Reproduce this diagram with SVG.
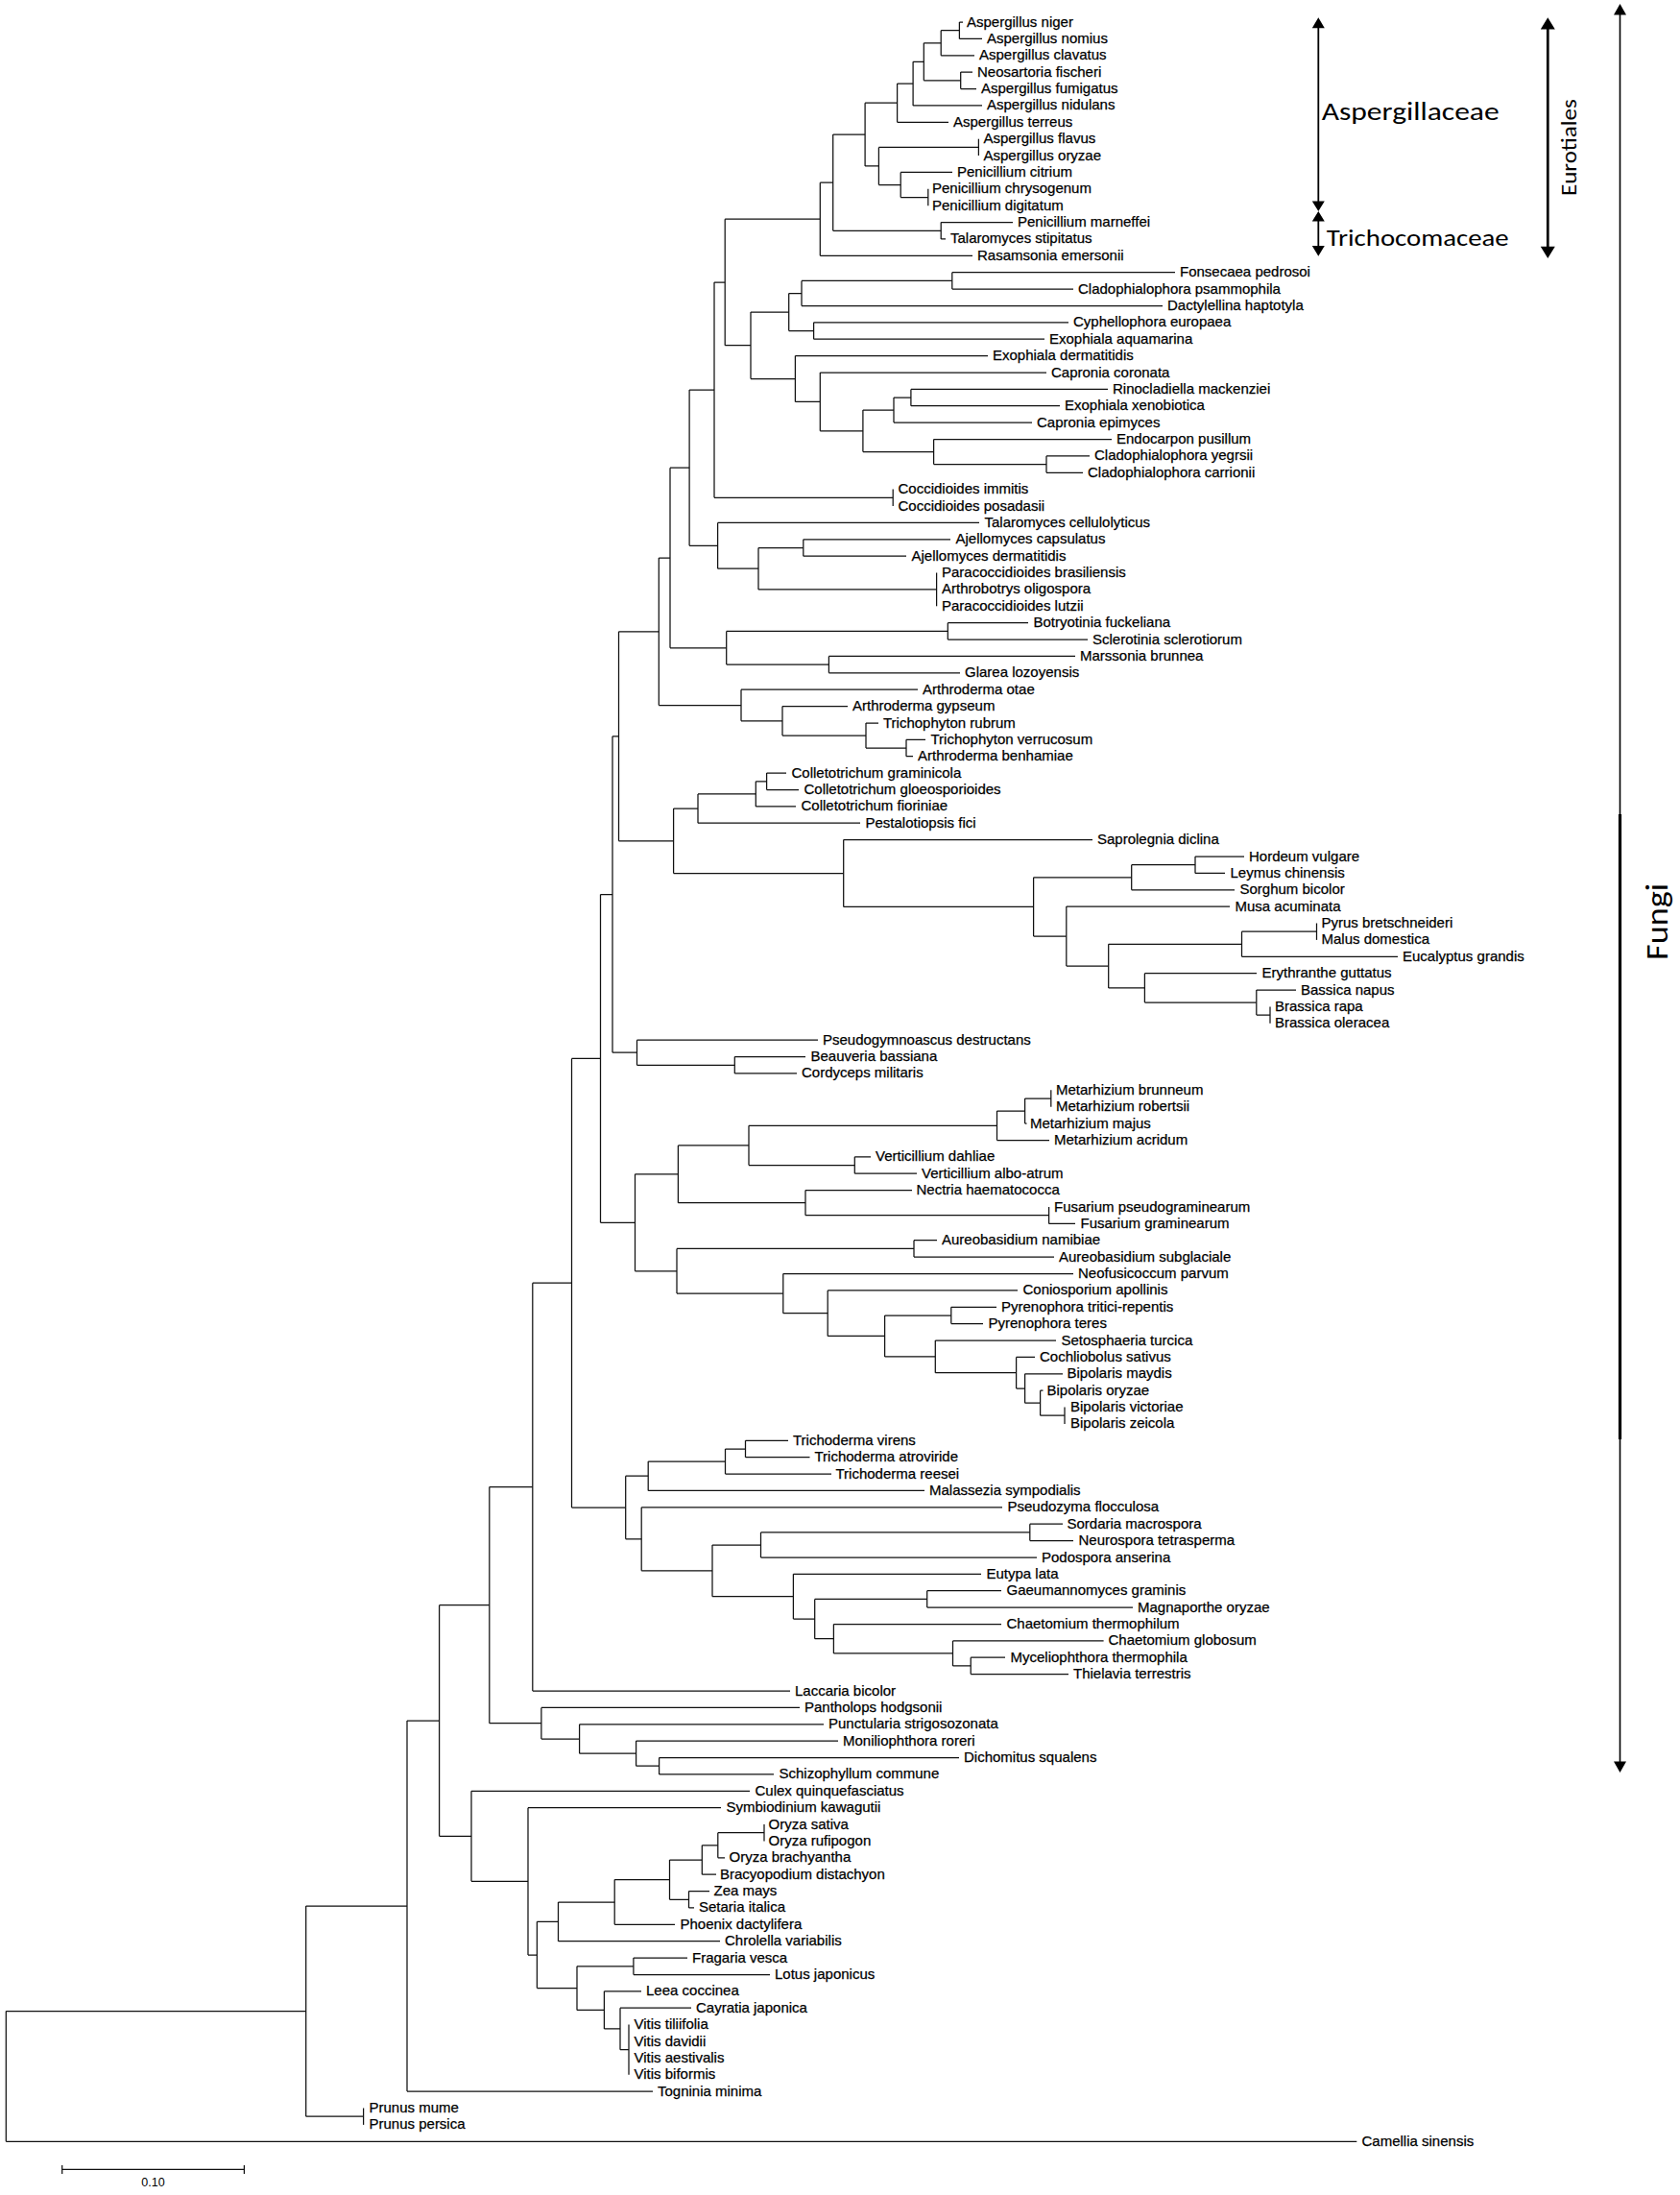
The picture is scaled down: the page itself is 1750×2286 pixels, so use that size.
<svg xmlns="http://www.w3.org/2000/svg" width="1750" height="2286" viewBox="0 0 1750 2286">
<style>
.br{fill:none;stroke:#111;stroke-width:1.25}
.lb{font-family:"Liberation Sans",Arial,sans-serif;font-size:15px;fill:#000;stroke:#000;stroke-width:0.25}
.an{font-family:Carlito,Lato,"Open Sans",sans-serif;fill:#000}
.ar{fill:none;stroke:#000}
.ah{fill:#000}
</style>
<rect width="1750" height="2286" fill="#fff"/>
<g id="connectors" class="br">
<path d="M6.3 2094.6V2230.3M6.3 2094.6H318.7M6.3 2230.3H1413.3"/>
<path d="M318.7 1985.1V2204.2M318.7 1985.1H424M318.7 2204.2H378.6"/>
<path d="M378.6 2195.5V2212.9"/>
<path d="M424 1792V2178.1M424 1792H457.6M424 2178.1H680"/>
<path d="M457.6 1671.7V1912.3M457.6 1671.7H509.8M457.6 1912.3H491"/>
<path d="M491 1865.3V1959.3M491 1865.3H781M491 1959.3H550"/>
<path d="M550 1882.7V2036M550 1882.7H751M550 2036H559.4"/>
<path d="M559.4 2001.3V2070.6M559.4 2001.3H581.5M559.4 2070.6H601"/>
<path d="M581.5 1981V2021.7M581.5 1981H640.2M581.5 2021.7H750"/>
<path d="M640.2 1957.6V2004.3M640.2 1957.6H697.5M640.2 2004.3H703"/>
<path d="M697.5 1937V1978.3M697.5 1937H731.3M697.5 1978.3H717.5"/>
<path d="M731.3 1921.8V1952.2M731.3 1921.8H747.8M731.3 1952.2H746"/>
<path d="M747.8 1908.7V1934.8M747.8 1908.7H796M747.8 1934.8H755"/>
<path d="M796 1900V1917.4"/>
<path d="M717.5 1969.6V1986.9M717.5 1969.6H739M717.5 1986.9H723"/>
<path d="M601 2047.8V2093.4M601 2047.8H659.9M601 2093.4H629.4"/>
<path d="M659.9 2039.1V2056.5M659.9 2039.1H716M659.9 2056.5H802"/>
<path d="M629.4 2073.8V2112.9M629.4 2073.8H668M629.4 2112.9H646"/>
<path d="M646 2091.2V2134.7M646 2091.2H720M646 2134.7H655"/>
<path d="M655 2108.6V2160.7"/>
<path d="M509.8 1548.6V1794.7M509.8 1548.6H554.8M509.8 1794.7H563.9"/>
<path d="M563.9 1778.4V1811M563.9 1778.4H833M563.9 1811H603.6"/>
<path d="M603.6 1795.8V1826.2M603.6 1795.8H858M603.6 1826.2H662.6"/>
<path d="M662.6 1813.1V1839.2M662.6 1813.1H873M662.6 1839.2H686.6"/>
<path d="M686.6 1830.5V1847.9M686.6 1830.5H999M686.6 1847.9H806"/>
<path d="M554.8 1336.2V1761M554.8 1336.2H595.5M554.8 1761H823"/>
<path d="M595.5 1102.4V1570M595.5 1102.4H625.5M595.5 1570H651.7"/>
<path d="M651.7 1537.2V1602.8M651.7 1537.2H675.2M651.7 1602.8H668.2"/>
<path d="M675.2 1522.1V1552.4M675.2 1522.1H755.5M675.2 1552.4H963"/>
<path d="M755.5 1509V1535.1M755.5 1509H776.5M755.5 1535.1H866"/>
<path d="M776.5 1500.3V1517.7M776.5 1500.3H821M776.5 1517.7H843.5"/>
<path d="M668.2 1569.8V1635.8M668.2 1569.8H1044M668.2 1635.8H742"/>
<path d="M742 1609V1662.7M742 1609H792.5M742 1662.7H826.4"/>
<path d="M792.5 1595.9V1622M792.5 1595.9H1072.8M792.5 1622H1080"/>
<path d="M1072.8 1587.2V1604.6M1072.8 1587.2H1107M1072.8 1604.6H1118"/>
<path d="M826.4 1639.3V1686.1M826.4 1639.3H1022M826.4 1686.1H848.7"/>
<path d="M848.7 1665.4V1706.7M848.7 1665.4H965.7M848.7 1706.7H868.4"/>
<path d="M965.7 1656.7V1674.1M965.7 1656.7H1043M965.7 1674.1H1180"/>
<path d="M868.4 1691.5V1721.9M868.4 1691.5H1043M868.4 1721.9H992.5"/>
<path d="M992.5 1708.9V1734.9M992.5 1708.9H1149.6M992.5 1734.9H1011.2"/>
<path d="M1011.2 1726.2V1743.6M1011.2 1726.2H1047M1011.2 1743.6H1113"/>
<path d="M625.5 931.5V1273.3M625.5 931.5H638M625.5 1273.3H661.5"/>
<path d="M661.5 1222.8V1323.8M661.5 1222.8H706.4M661.5 1323.8H705"/>
<path d="M706.4 1192.9V1252.7M706.4 1192.9H780M706.4 1252.7H839"/>
<path d="M780 1172.3V1213.5M780 1172.3H1038.5M780 1213.5H890.3"/>
<path d="M1038.5 1157.1V1187.5M1038.5 1157.1H1067.6M1038.5 1187.5H1093"/>
<path d="M1067.6 1144V1170.1M1067.6 1144H1094.8M1067.6 1170.1H1069.5"/>
<path d="M1094.8 1135.3V1152.7"/>
<path d="M890.3 1204.8V1222.2M890.3 1204.8H907M890.3 1222.2H955"/>
<path d="M839 1239.6V1265.7M839 1239.6H950M839 1265.7H1092.6"/>
<path d="M1092.6 1257V1274.4M1092.6 1274.4H1120"/>
<path d="M705 1300.4V1347.1M705 1300.4H952M705 1347.1H815.8"/>
<path d="M952 1291.7V1309.1M952 1291.7H976M952 1309.1H1098"/>
<path d="M815.8 1326.5V1367.7M815.8 1326.5H1118M815.8 1367.7H862.2"/>
<path d="M862.2 1343.9V1391.4M862.2 1343.9H1060M862.2 1391.4H921.6"/>
<path d="M921.6 1370V1412.9M921.6 1370H990.8M921.6 1412.9H974.3"/>
<path d="M990.8 1361.3V1378.6M990.8 1361.3H1038M990.8 1378.6H1024"/>
<path d="M974.3 1396V1429.7M974.3 1396H1100M974.3 1429.7H1058.6"/>
<path d="M1058.6 1413.4V1446M1058.6 1413.4H1078M1058.6 1446H1067.6"/>
<path d="M1067.6 1430.8V1461.2M1067.6 1430.8H1107M1067.6 1461.2H1083.6"/>
<path d="M1083.6 1448.2V1474.2M1083.6 1448.2H1086.5M1083.6 1474.2H1109"/>
<path d="M1109 1465.5V1482.9"/>
<path d="M638 766.8V1096.2M638 766.8H644.5M638 1096.2H663.5"/>
<path d="M663.5 1083.2V1109.3M663.5 1083.2H852M663.5 1109.3H765.3"/>
<path d="M765.3 1100.6V1117.9M765.3 1100.6H839M765.3 1117.9H830"/>
<path d="M644.5 657.8V875.8M644.5 657.8H686.3M644.5 875.8H701.6"/>
<path d="M701.6 842V909.5M701.6 842H727M701.6 909.5H878.7"/>
<path d="M727 826.9V857.2M727 826.9H787.3M727 857.2H896"/>
<path d="M787.3 813.8V839.9M787.3 813.8H798.6M787.3 839.9H829"/>
<path d="M798.6 805.1V822.5M798.6 805.1H819M798.6 822.5H832"/>
<path d="M878.7 874.6V944.4M878.7 874.6H1138M878.7 944.4H1076.6"/>
<path d="M1076.6 913.8V975.1M1076.6 913.8H1178.7M1076.6 975.1H1110.8"/>
<path d="M1178.7 900.7V926.8M1178.7 900.7H1245M1178.7 926.8H1286"/>
<path d="M1245 892V909.4M1245 892H1296M1245 909.4H1276"/>
<path d="M1110.8 944.1V1006.1M1110.8 944.1H1281M1110.8 1006.1H1154.7"/>
<path d="M1154.7 983.3V1028.9M1154.7 983.3H1293.5M1154.7 1028.9H1192.4"/>
<path d="M1293.5 970.2V996.3M1293.5 970.2H1371.5M1293.5 996.3H1456"/>
<path d="M1371.5 961.5V978.9"/>
<path d="M1192.4 1013.7V1044.1M1192.4 1013.7H1309M1192.4 1044.1H1308.8"/>
<path d="M1308.8 1031V1057.1M1308.8 1031H1350M1308.8 1057.1H1323"/>
<path d="M1323 1048.4V1065.8"/>
<path d="M686.3 581V734.5M686.3 581H698M686.3 734.5H772"/>
<path d="M772 718.2V750.8M772 718.2H956M772 750.8H815"/>
<path d="M815 735.6V766M815 735.6H883M815 766H902"/>
<path d="M902 753V779M902 753H915M902 779H944"/>
<path d="M944 770.3V787.7M944 770.3H964M944 787.7H951"/>
<path d="M698 487.2V674.8M698 487.2H718.1M698 674.8H756.7"/>
<path d="M756.7 657.4V692.1M756.7 657.4H987.3M756.7 692.1H863.4"/>
<path d="M987.3 648.7V666.1M987.3 648.7H1071M987.3 666.1H1133"/>
<path d="M863.4 683.4V700.8M863.4 683.4H1120M863.4 700.8H1000"/>
<path d="M718.1 406.1V568.3M718.1 406.1H744M718.1 568.3H747.6"/>
<path d="M747.6 544.4V592.2M747.6 544.4H1020M747.6 592.2H790"/>
<path d="M790 570.5V613.9M790 570.5H836.8M790 613.9H975.6"/>
<path d="M836.8 561.8V579.2M836.8 561.8H990M836.8 579.2H944"/>
<path d="M975.6 596.5V631.3"/>
<path d="M744 294V518.3M744 294H755.2M744 518.3H930.2"/>
<path d="M930.2 509.6V527"/>
<path d="M755.2 228.2V359.7M755.2 228.2H854.3M755.2 359.7H782"/>
<path d="M854.3 190.2V266.3M854.3 190.2H867.7M854.3 266.3H1013"/>
<path d="M867.7 140.1V240.3M867.7 140.1H901.1M867.7 240.3H980.2"/>
<path d="M980.2 231.6V248.9M980.2 231.6H1055M980.2 248.9H985"/>
<path d="M901.1 107.2V172.9M901.1 107.2H934.6M901.1 172.9H915.4"/>
<path d="M934.6 87.1V127.3M934.6 87.1H951.1M934.6 127.3H988"/>
<path d="M951.1 64.3V109.9M951.1 64.3H962.3M951.1 109.9H1023"/>
<path d="M962.3 44.8V83.8M962.3 44.8H980.2M962.3 83.8H1000.7"/>
<path d="M980.2 31.7V57.8M980.2 31.7H999.4M980.2 57.8H1015"/>
<path d="M999.4 23V40.4M999.4 23H1003M999.4 40.4H1023"/>
<path d="M1000.7 75.1V92.5M1000.7 75.1H1013M1000.7 92.5H1017"/>
<path d="M915.4 153.4V192.5M915.4 153.4H1019.4M915.4 192.5H938.2"/>
<path d="M1019.4 144.7V162"/>
<path d="M938.2 179.4V205.5M938.2 179.4H992M938.2 205.5H966.8"/>
<path d="M966.8 196.8V214.2"/>
<path d="M782 325V394.5M782 325H821.7M782 394.5H828.4"/>
<path d="M821.7 305.5V344.5M821.7 305.5H835M821.7 344.5H847.6"/>
<path d="M835 292.4V318.5M835 292.4H991.8M835 318.5H1211"/>
<path d="M991.8 283.7V301.1M991.8 283.7H1224M991.8 301.1H1118"/>
<path d="M847.6 335.8V353.2M847.6 335.8H1113M847.6 353.2H1088"/>
<path d="M828.4 370.6V418.4M828.4 370.6H1029M828.4 418.4H854.3"/>
<path d="M854.3 388V448.8M854.3 388H1090M854.3 448.8H898.9"/>
<path d="M898.9 427.1V470.6M898.9 427.1H931M898.9 470.6H972.6"/>
<path d="M931 414.1V440.1M931 414.1H948.9M931 440.1H1075"/>
<path d="M948.9 405.4V422.7M948.9 405.4H1154M948.9 422.7H1104"/>
<path d="M972.6 457.5V483.6M972.6 457.5H1158M972.6 483.6H1090"/>
<path d="M1090 474.9V492.3M1090 474.9H1135M1090 492.3H1128"/>
</g>
<g id="labels" class="lb">
<g id="leaf1"><text x="1007" y="27.5">Aspergillus niger</text></g>
<g id="leaf2"><text x="1028" y="44.9">Aspergillus nomius</text></g>
<g id="leaf3"><text x="1020" y="62.3">Aspergillus clavatus</text></g>
<g id="leaf4"><text x="1018" y="79.6">Neosartoria fischeri</text></g>
<g id="leaf5"><text x="1022" y="97">Aspergillus fumigatus</text></g>
<g id="leaf6"><text x="1028" y="114.4">Aspergillus nidulans</text></g>
<g id="leaf7"><text x="993" y="131.8">Aspergillus terreus</text></g>
<g id="leaf8"><text x="1024.5" y="149.2">Aspergillus flavus</text></g>
<g id="leaf9"><text x="1024.5" y="166.5">Aspergillus oryzae</text></g>
<g id="leaf10"><text x="997" y="183.9">Penicillium citrium</text></g>
<g id="leaf11"><text x="971" y="201.3">Penicillium chrysogenum</text></g>
<g id="leaf12"><text x="971" y="218.7">Penicillium digitatum</text></g>
<g id="leaf13"><text x="1060" y="236.1">Penicillium marneffei</text></g>
<g id="leaf14"><text x="990" y="253.4">Talaromyces stipitatus</text></g>
<g id="leaf15"><text x="1018" y="270.8">Rasamsonia emersonii</text></g>
<g id="leaf16"><text x="1229" y="288.2">Fonsecaea pedrosoi</text></g>
<g id="leaf17"><text x="1123" y="305.6">Cladophialophora psammophila</text></g>
<g id="leaf18"><text x="1216" y="323">Dactylellina haptotyla</text></g>
<g id="leaf19"><text x="1118" y="340.3">Cyphellophora europaea</text></g>
<g id="leaf20"><text x="1093" y="357.7">Exophiala aquamarina</text></g>
<g id="leaf21"><text x="1034" y="375.1">Exophiala dermatitidis</text></g>
<g id="leaf22"><text x="1095" y="392.5">Capronia coronata</text></g>
<g id="leaf23"><text x="1159" y="409.9">Rinocladiella mackenziei</text></g>
<g id="leaf24"><text x="1109" y="427.2">Exophiala xenobiotica</text></g>
<g id="leaf25"><text x="1080" y="444.6">Capronia epimyces</text></g>
<g id="leaf26"><text x="1163" y="462">Endocarpon pusillum</text></g>
<g id="leaf27"><text x="1140" y="479.4">Cladophialophora yegrsii</text></g>
<g id="leaf28"><text x="1133" y="496.8">Cladophialophora carrionii</text></g>
<g id="leaf29"><text x="935.5" y="514.1">Coccidioides immitis</text></g>
<g id="leaf30"><text x="935.5" y="531.5">Coccidioides posadasii</text></g>
<g id="leaf31"><text x="1025.5" y="548.9">Talaromyces cellulolyticus</text></g>
<g id="leaf32"><text x="995.5" y="566.3">Ajellomyces capsulatus</text></g>
<g id="leaf33"><text x="949.5" y="583.7">Ajellomyces dermatitidis</text></g>
<g id="leaf34"><text x="981" y="601">Paracoccidioides brasiliensis</text></g>
<g id="leaf35"><text x="981" y="618.4">Arthrobotrys oligospora</text></g>
<g id="leaf36"><text x="981" y="635.8">Paracoccidioides lutzii</text></g>
<g id="leaf37"><text x="1076.5" y="653.2">Botryotinia fuckeliana</text></g>
<g id="leaf38"><text x="1138" y="670.6">Sclerotinia sclerotiorum</text></g>
<g id="leaf39"><text x="1125" y="687.9">Marssonia brunnea</text></g>
<g id="leaf40"><text x="1005" y="705.3">Glarea lozoyensis</text></g>
<g id="leaf41"><text x="961" y="722.7">Arthroderma otae</text></g>
<g id="leaf42"><text x="888" y="740.1">Arthroderma gypseum</text></g>
<g id="leaf43"><text x="920" y="757.5">Trichophyton rubrum</text></g>
<g id="leaf44"><text x="969.5" y="774.8">Trichophyton verrucosum</text></g>
<g id="leaf45"><text x="956" y="792.2">Arthroderma benhamiae</text></g>
<g id="leaf46"><text x="824.5" y="809.6">Colletotrichum graminicola</text></g>
<g id="leaf47"><text x="837.5" y="827">Colletotrichum gloeosporioides</text></g>
<g id="leaf48"><text x="834.5" y="844.4">Colletotrichum fioriniae</text></g>
<g id="leaf49"><text x="901.5" y="861.7">Pestalotiopsis fici</text></g>
<g id="leaf50"><text x="1143" y="879.1">Saprolegnia diclina</text></g>
<g id="leaf51"><text x="1301" y="896.5">Hordeum vulgare</text></g>
<g id="leaf52"><text x="1281.5" y="913.9">Leymus chinensis</text></g>
<g id="leaf53"><text x="1291.5" y="931.3">Sorghum bicolor</text></g>
<g id="leaf54"><text x="1286.5" y="948.6">Musa acuminata</text></g>
<g id="leaf55"><text x="1376.5" y="966">Pyrus bretschneideri</text></g>
<g id="leaf56"><text x="1376.5" y="983.4">Malus domestica</text></g>
<g id="leaf57"><text x="1461" y="1000.8">Eucalyptus grandis</text></g>
<g id="leaf58"><text x="1314.5" y="1018.2">Erythranthe guttatus</text></g>
<g id="leaf59"><text x="1355" y="1035.5">Bassica napus</text></g>
<g id="leaf60"><text x="1328" y="1052.9">Brassica rapa</text></g>
<g id="leaf61"><text x="1328" y="1070.3">Brassica oleracea</text></g>
<g id="leaf62"><text x="857" y="1087.7">Pseudogymnoascus destructans</text></g>
<g id="leaf63"><text x="844.5" y="1105.1">Beauveria bassiana</text></g>
<g id="leaf64"><text x="835" y="1122.4">Cordyceps militaris</text></g>
<g id="leaf65"><text x="1100" y="1139.8">Metarhizium brunneum</text></g>
<g id="leaf66"><text x="1100" y="1157.2">Metarhizium robertsii</text></g>
<g id="leaf67"><text x="1073" y="1174.6">Metarhizium majus</text></g>
<g id="leaf68"><text x="1098" y="1192">Metarhizium acridum</text></g>
<g id="leaf69"><text x="912" y="1209.3">Verticillium dahliae</text></g>
<g id="leaf70"><text x="960" y="1226.7">Verticillium albo-atrum</text></g>
<g id="leaf71"><text x="954.5" y="1244.1">Nectria haematococca</text></g>
<g id="leaf72"><text x="1098" y="1261.5">Fusarium pseudograminearum</text></g>
<g id="leaf73"><text x="1125.5" y="1278.9">Fusarium graminearum</text></g>
<g id="leaf74"><text x="981" y="1296.2">Aureobasidium namibiae</text></g>
<g id="leaf75"><text x="1103" y="1313.6">Aureobasidium subglaciale</text></g>
<g id="leaf76"><text x="1123" y="1331">Neofusicoccum parvum</text></g>
<g id="leaf77"><text x="1065.5" y="1348.4">Coniosporium apollinis</text></g>
<g id="leaf78"><text x="1043" y="1365.8">Pyrenophora tritici-repentis</text></g>
<g id="leaf79"><text x="1029.5" y="1383.1">Pyrenophora teres</text></g>
<g id="leaf80"><text x="1105.5" y="1400.5">Setosphaeria turcica</text></g>
<g id="leaf81"><text x="1083" y="1417.9">Cochliobolus sativus</text></g>
<g id="leaf82"><text x="1111.5" y="1435.3">Bipolaris maydis</text></g>
<g id="leaf83"><text x="1090.5" y="1452.7">Bipolaris oryzae</text></g>
<g id="leaf84"><text x="1115" y="1470">Bipolaris victoriae</text></g>
<g id="leaf85"><text x="1115" y="1487.4">Bipolaris zeicola</text></g>
<g id="leaf86"><text x="826" y="1504.8">Trichoderma virens</text></g>
<g id="leaf87"><text x="848.5" y="1522.2">Trichoderma atroviride</text></g>
<g id="leaf88"><text x="870.5" y="1539.6">Trichoderma reesei</text></g>
<g id="leaf89"><text x="968" y="1556.9">Malassezia sympodialis</text></g>
<g id="leaf90"><text x="1049.5" y="1574.3">Pseudozyma flocculosa</text></g>
<g id="leaf91"><text x="1111.5" y="1591.7">Sordaria macrospora</text></g>
<g id="leaf92"><text x="1123.5" y="1609.1">Neurospora tetrasperma</text></g>
<g id="leaf93"><text x="1085" y="1626.5">Podospora anserina</text></g>
<g id="leaf94"><text x="1027.5" y="1643.8">Eutypa lata</text></g>
<g id="leaf95"><text x="1048.5" y="1661.2">Gaeumannomyces graminis</text></g>
<g id="leaf96"><text x="1185" y="1678.6">Magnaporthe oryzae</text></g>
<g id="leaf97"><text x="1048.5" y="1696">Chaetomium thermophilum</text></g>
<g id="leaf98"><text x="1154.5" y="1713.4">Chaetomium globosum</text></g>
<g id="leaf99"><text x="1052.5" y="1730.7">Myceliophthora thermophila</text></g>
<g id="leaf100"><text x="1118" y="1748.1">Thielavia terrestris</text></g>
<g id="leaf101"><text x="828" y="1765.5">Laccaria bicolor</text></g>
<g id="leaf102"><text x="838" y="1782.9">Pantholops hodgsonii</text></g>
<g id="leaf103"><text x="863" y="1800.3">Punctularia strigosozonata</text></g>
<g id="leaf104"><text x="878" y="1817.6">Moniliophthora roreri</text></g>
<g id="leaf105"><text x="1004" y="1835">Dichomitus squalens</text></g>
<g id="leaf106"><text x="811.5" y="1852.4">Schizophyllum commune</text></g>
<g id="leaf107"><text x="786.5" y="1869.8">Culex quinquefasciatus</text></g>
<g id="leaf108"><text x="756.5" y="1887.2">Symbiodinium kawagutii</text></g>
<g id="leaf109"><text x="800.5" y="1904.5">Oryza sativa</text></g>
<g id="leaf110"><text x="800.5" y="1921.9">Oryza rufipogon</text></g>
<g id="leaf111"><text x="759.5" y="1939.3">Oryza brachyantha</text></g>
<g id="leaf112"><text x="750" y="1956.7">Bracyopodium distachyon</text></g>
<g id="leaf113"><text x="743.5" y="1974.1">Zea mays</text></g>
<g id="leaf114"><text x="728" y="1991.4">Setaria italica</text></g>
<g id="leaf115"><text x="708.5" y="2008.8">Phoenix dactylifera</text></g>
<g id="leaf116"><text x="755" y="2026.2">Chrolella variabilis</text></g>
<g id="leaf117"><text x="721" y="2043.6">Fragaria vesca</text></g>
<g id="leaf118"><text x="807" y="2061">Lotus japonicus</text></g>
<g id="leaf119"><text x="673" y="2078.3">Leea coccinea</text></g>
<g id="leaf120"><text x="725" y="2095.7">Cayratia japonica</text></g>
<g id="leaf121"><text x="660.5" y="2113.1">Vitis tiliifolia</text></g>
<g id="leaf122"><text x="660.5" y="2130.5">Vitis davidii</text></g>
<g id="leaf123"><text x="660.5" y="2147.9">Vitis aestivalis</text></g>
<g id="leaf124"><text x="660.5" y="2165.2">Vitis biformis</text></g>
<g id="leaf125"><text x="685" y="2182.6">Togninia minima</text></g>
<g id="leaf126"><text x="384.5" y="2200">Prunus mume</text></g>
<g id="leaf127"><text x="384.5" y="2217.4">Prunus persica</text></g>
<g id="leaf128"><text x="1418.5" y="2234.8">Camellia sinensis</text></g>
</g>
<g id="annotations">
<g id="aspergillaceae">
<path class="ar" stroke-width="1.8" d="M1373.3 28V211"/>
<path class="ah" d="M1373.3 18.3L1379.8 29.3H1366.8Z M1373.3 220L1379.8 209.5H1366.8Z"/>
<text class="an" x="1376.7" y="125" font-size="26" textLength="185" lengthAdjust="spacingAndGlyphs">Aspergillaceae</text>
</g>
<g id="trichocomaceae">
<path class="ar" stroke-width="1.8" d="M1373.3 229.5V257"/>
<path class="ah" d="M1373.3 220L1379.8 230.5H1366.8Z M1373.3 266.7L1379.8 256H1366.8Z"/>
<text class="an" x="1381.7" y="255.5" font-size="24" textLength="190" lengthAdjust="spacingAndGlyphs">Trichocomaceae</text>
</g>
<g id="eurotiales">
<path class="ar" stroke-width="2.7" d="M1612.3 29V258"/>
<path class="ah" d="M1612.3 18.3L1619.8 30.5H1604.8Z M1612.3 269L1619.8 256.8H1604.8Z"/>
<text class="an" transform="translate(1641.7 204) rotate(-90)" font-size="22" textLength="100.7" lengthAdjust="spacingAndGlyphs">Eurotiales</text>
</g>
<g id="fungi">
<path class="ar" stroke-width="1.6" d="M1687.5 14V849 M1687.5 1498V1835.5"/>
<path class="ar" stroke-width="3.2" d="M1687.5 848V1499"/>
<path class="ah" d="M1687.5 4L1694 15.5H1681Z M1687.5 1846L1694 1834.5H1681Z"/>
<text class="an" transform="translate(1736.7 1000) rotate(-90)" font-size="32" textLength="80" lengthAdjust="spacingAndGlyphs">Fungi</text>
</g>
</g>
<g id="scalebar">
<path class="br" d="M64.7 2259.4H254.4M64.7 2254.9V2263.9M254.4 2254.9V2263.9"/>
<text x="159.5" y="2277" text-anchor="middle" font-family="Liberation Sans, Arial, sans-serif" font-size="12.5" fill="#000">0.10</text>
</g>
</svg>
